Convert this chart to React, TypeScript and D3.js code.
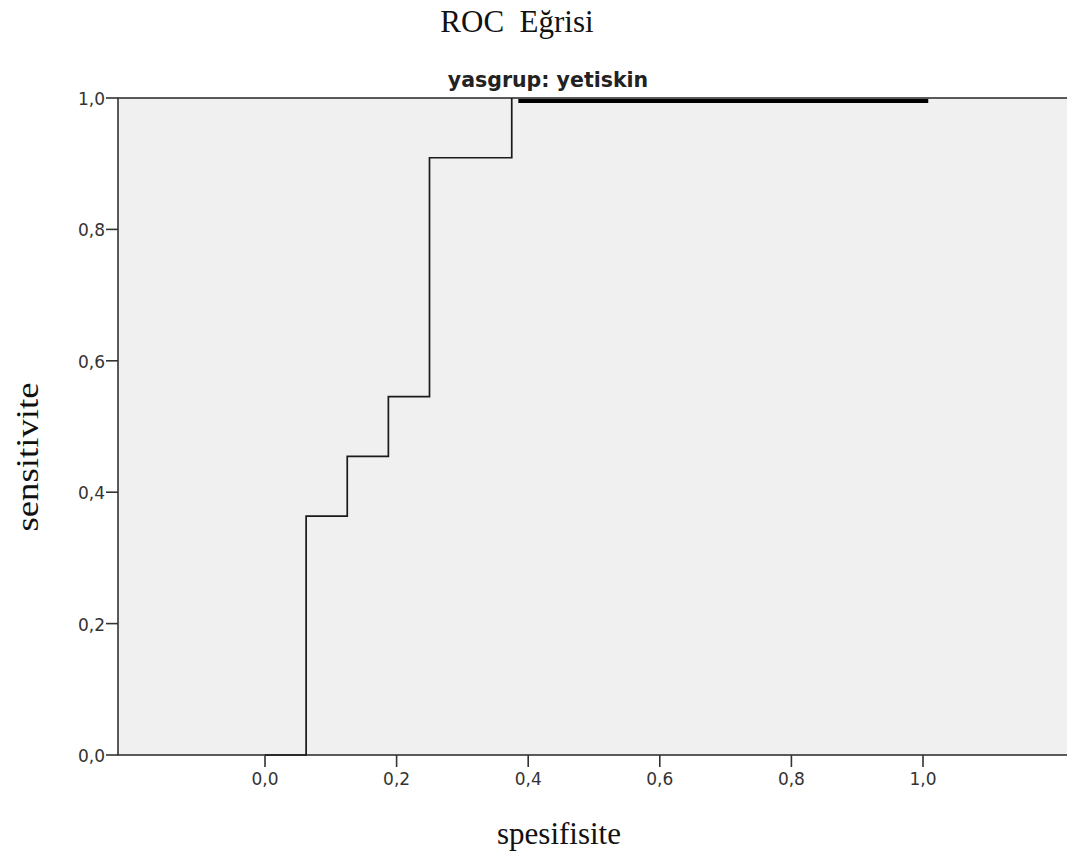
import React, {useEffect, useRef} from 'react'
import * as d3 from 'd3'

// ROC step curve (1 - specificity on x, sensitivity on y)
const rocX = [0, 1/16, 1/16, 2/16, 2/16, 3/16, 3/16, 4/16, 4/16, 6/16, 6/16]
const rocY = [0, 0, 4/11, 4/11, 5/11, 5/11, 6/11, 6/11, 10/11, 10/11, 1]
// heavy segment along the top
const topX = [0.385, 1.008]
const topY = [1, 1]

const xTicks = [0, 0.2, 0.4, 0.6, 0.8, 1.0]
const yTicks = [0, 0.2, 0.4, 0.6, 0.8, 1.0]

const fmt = (d: number) => d.toFixed(1).replace('.', ',')

export default function App() {
	const svgRef = useRef<SVGSVGElement>(null)

	useEffect(() => {
		const svg = d3.select(svgRef.current)
		svg.selectAll('*').remove()

		const left = 118, top = 98, bottom = 755, right = 1069
		const xScale = d3.scaleLinear().domain([0, 1]).range([265, 923])
		const yScale = d3.scaleLinear().domain([0, 1]).range([bottom, top])

		svg.append('rect')
			.attr('x', left).attr('y', top)
			.attr('width', right - left).attr('height', bottom - top)
			.attr('fill', '#f0f0f0')
			.attr('stroke', '#333')
			.attr('stroke-width', 1.6)

		const line = d3.line<number>()
			.x(function(d, i) { return xScale(rocX[i]) })
			.y(function(d) { return yScale(d) })

		svg.append('path')
			.datum(rocY)
			.attr('fill', 'none')
			.attr('stroke', '#1a1a1a')
			.attr('stroke-width', 1.7)
			.attr('d', line)

		const topLine = d3.line<number>()
			.x(function(d, i) { return xScale(topX[i]) })
			.y(function(d) { return yScale(d) + 3 })
		svg.append('path')
			.datum(topY)
			.attr('fill', 'none')
			.attr('stroke', '#000')
			.attr('stroke-width', 4)
			.attr('d', topLine)

		// y axis
		const yAxis = svg.append('g')
		yTicks.forEach(function(t) {
			yAxis.append('line')
				.attr('x1', 106).attr('x2', left)
				.attr('y1', yScale(t)).attr('y2', yScale(t))
				.attr('stroke', '#333').attr('stroke-width', 1.6)
			yAxis.append('text')
				.attr('x', 105).attr('y', yScale(t) + 7)
				.attr('text-anchor', 'end')
				.attr('font-family', 'DejaVu Sans')
				.attr('font-size', 17)
				.attr('fill', '#333')
				.text(fmt(t))
		})

		// x axis
		const xAxis = svg.append('g')
		xTicks.forEach(function(t) {
			xAxis.append('line')
				.attr('x1', xScale(t)).attr('x2', xScale(t))
				.attr('y1', bottom).attr('y2', bottom + 12)
				.attr('stroke', '#333').attr('stroke-width', 1.6)
			xAxis.append('text')
				.attr('x', xScale(t)).attr('y', 785)
				.attr('text-anchor', 'middle')
				.attr('font-family', 'DejaVu Sans')
				.attr('font-size', 17)
				.attr('fill', '#333')
				.text(fmt(t))
		})

		svg.append('text')
			.attr('x', 517).attr('y', 32)
			.attr('text-anchor', 'middle')
			.attr('font-family', 'Liberation Serif')
			.attr('font-size', 31)
			.attr('fill', '#111')
			.style('white-space', 'pre')
			.text('ROC  Eğrisi')

		svg.append('text')
			.attr('x', 548).attr('y', 87)
			.attr('text-anchor', 'middle')
			.attr('font-family', 'DejaVu Sans')
			.attr('font-weight', 'bold')
			.attr('font-size', 20.5)
			.attr('fill', '#222')
			.text('yasgrup: yetiskin')

		svg.append('text')
			.attr('transform', 'translate(38,457) rotate(-90)')
			.attr('text-anchor', 'middle')
			.attr('font-family', 'Liberation Serif')
			.attr('font-size', 32)
			.attr('textLength', 149)
			.attr('lengthAdjust', 'spacingAndGlyphs')
			.attr('fill', '#111')
			.text('sensitivite')

		svg.append('text')
			.attr('x', 559).attr('y', 844)
			.attr('text-anchor', 'middle')
			.attr('font-family', 'Liberation Serif')
			.attr('font-size', 31)
			.attr('fill', '#111')
			.text('spesifisite')
	}, [])

	return (
		<div style={{position: 'absolute', left: 0, top: 0, margin: 0}}>
			<svg ref={svgRef} width={1067} height={855} style={{display: 'block', background: '#fff'}}/>
		</div>
	)
}
